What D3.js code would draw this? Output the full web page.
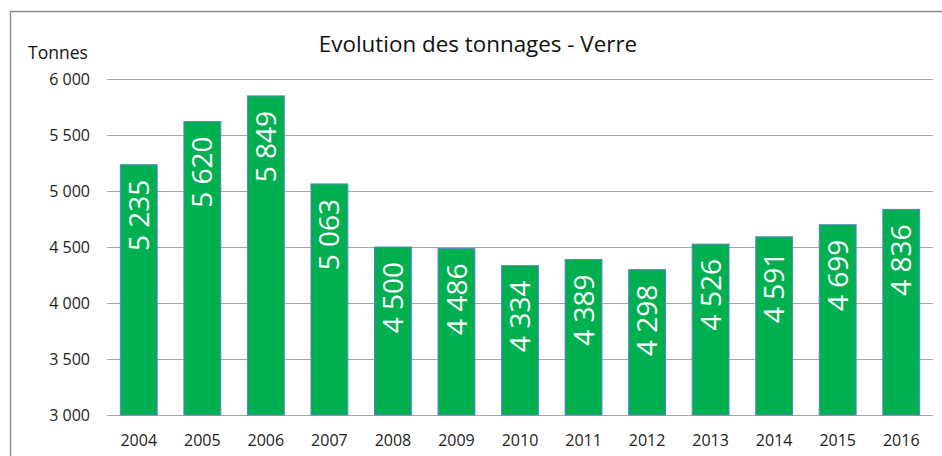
<!DOCTYPE html>
<html>
<head>
<meta charset="utf-8">
<script src="https://cdn.jsdelivr.net/npm/d3@7"></script>
<style>
  body { margin: 0; background: #fff; }
  svg { display: block; font-family: "Open Sans", sans-serif; }
</style>
</head>
<body>
<svg id="chart" width="942" height="456"></svg>
<script>
/** ------------- DATA -------------- */
const years = ["2004", "2005", "2006", "2007", "2008", "2009", "2010", "2011", "2012", "2013", "2014", "2015", "2016"];
const tonnages = [5235, 5620, 5849, 5063, 4500, 4486, 4334, 4389, 4298, 4526, 4591, 4699, 4836];
const yTicks = [3000, 3500, 4000, 4500, 5000, 5500, 6000];

const fmt = (v) => d3.format(",")(v).replace(/,/g, " ");

const svg = d3.select("#chart");
const margin = { left: 107, right: 9, top: 79, bottom: 41 };
const width = +svg.attr("width");
const height = +svg.attr("height");

/** chart frame (cut off on the right and bottom) */
svg.append("rect")
    .attr("x", 10.5).attr("y", 11.5)
    .attr("width", 960).attr("height", 500)
    .attr("fill", "none")
    .attr("stroke", "#8c8c8c")
    .attr("stroke-width", 1.5);

const x = d3.scaleBand()
    .domain(years)
    .range([margin.left, width - margin.right])
    .paddingInner(0.42)
    .paddingOuter(0.21);

const y = d3.scaleLinear()
    .domain([3000, 6000])
    .range([height - margin.bottom, margin.top]);

/** gridlines */
svg.append("g")
    .selectAll("line")
    .data(yTicks)
    .join("line")
    .attr("x1", margin.left)
    .attr("x2", width - margin.right)
    .attr("y1", (d) => Math.round(y(d)) + 0.5)
    .attr("y2", (d) => Math.round(y(d)) + 0.5)
    .attr("stroke", "#a6a6a6")
    .attr("stroke-width", 1);

/** y axis labels */
const yAxis = svg.append("g")
    .attr("transform", `translate(${margin.left - 17},0)`)
    .call(d3.axisLeft(y).tickValues(yTicks).tickFormat(fmt).tickSize(0).tickPadding(0));
yAxis.select(".domain").remove();
yAxis.selectAll("text")
    .attr("font-family", "Open Sans, sans-serif")
    .attr("font-size", 16)
    .attr("fill", "#222");

/** x axis labels */
const xAxis = svg.append("g")
    .attr("transform", `translate(0,${height - margin.bottom})`)
    .call(d3.axisBottom(x).tickSize(0).tickPadding(20));
xAxis.select(".domain").remove();
xAxis.selectAll("text")
    .attr("font-family", "Open Sans, sans-serif")
    .attr("font-size", 16)
    .attr("fill", "#222");

/** bars */
svg.append("g")
    .selectAll("rect")
    .data(tonnages)
    .join("rect")
    .attr("x", (d, i) => x(years[i]))
    .attr("y", (d) => y(d))
    .attr("width", x.bandwidth())
    .attr("height", (d) => y(3000) - y(d))
    .attr("fill", "#00b050")
    .attr("stroke", "#5b84c8")
    .attr("stroke-width", 1);

/** value labels, rotated inside the bar top */
svg.append("g")
    .selectAll("text")
    .data(tonnages)
    .join("text")
    .attr("transform", (d, i) =>
        `translate(${x(years[i]) + x.bandwidth() / 2},${y(d) + 15}) rotate(-90)`)
    .attr("text-anchor", "end")
    .attr("dy", "0.36em")
    .attr("font-size", 28)
    .attr("fill", "#fff")
    .text((d) => fmt(d));

/** title and unit */
svg.append("text")
    .attr("x", 478).attr("y", 52)
    .attr("text-anchor", "middle")
    .attr("font-size", 22.4)
    .attr("fill", "#111")
    .text("Evolution des tonnages - Verre");

svg.append("text")
    .attr("x", 28).attr("y", 59)
    .attr("font-size", 17.5)
    .attr("fill", "#111")
    .text("Tonnes");
</script>
</body>
</html>
